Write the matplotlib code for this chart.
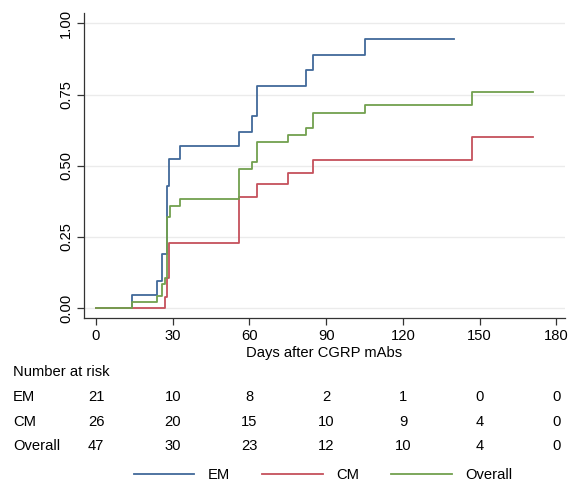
import numpy as np
import matplotlib
matplotlib.use("Agg")
import matplotlib.pyplot as plt
from matplotlib.transforms import blended_transform_factory

plt.rcParams['font.family'] = ['Liberation Sans', 'DejaVu Sans']
fs = 10.6

# cumulative incidence step curves
em_days = [0, 14, 23.7, 25.7, 27.6, 28.7, 33, 56, 61, 63, 82, 85, 105, 140]
em_vals = [0, .048, .095, .19, .43, .524, .571, .62, .675, .78, .835, .89, .945, .945]

cm_days = [0, 27.1, 27.9, 28.4, 56, 63, 75, 85, 147, 171]
cm_vals = [0, .04, .107, .23, .39, .435, .475, .52, .60, .60]

all_days = [0, 14, 23.7, 25.7, 27, 27.9, 29, 33, 56, 61, 63, 75, 82, 85, 105, 147, 171]
all_vals = [0, .021, .043, .085, .107, .32, .36, .383, .49, .515, .585, .608, .632, .684, .712, .76, .76]

risk_days = [0, 30, 60, 90, 120, 150, 180]
risk_em = [21, 10, 8, 2, 1, 0, 0]
risk_cm = [26, 20, 15, 10, 9, 4, 0]
risk_all = [47, 30, 23, 12, 10, 4, 0]

c_em = "#41699a"
c_cm = "#c5515c"
c_all = "#72a04e"

fig = plt.figure(figsize=(5.71, 4.84), dpi=100)
ax = fig.add_axes([84/571, 1-318/484, 481/571, 305/484])

ax.plot(em_days, em_vals, drawstyle='steps-post', color=c_em, lw=1.3, label='EM')
ax.plot(cm_days, cm_vals, drawstyle='steps-post', color=c_cm, lw=1.3, label='CM')
ax.plot(all_days, all_vals, drawstyle='steps-post', color=c_all, lw=1.3, label='Overall')

ax.set_xlim(-4.7, 183.4)
ax.set_ylim(-0.034, 1.036)
ax.set_xticks(risk_days)
ax.set_yticks([0, .25, .5, .75, 1])
ax.set_yticklabels(["0.00", "0.25", "0.50", "0.75", "1.00"], rotation=90, va='center')
ax.grid(axis='y', color='#ebebeb', lw=1)
ax.set_axisbelow(True)
for s in ['top', 'right']:
    ax.spines[s].set_visible(False)
for s in ['left', 'bottom']:
    ax.spines[s].set_color('#333333')
    ax.spines[s].set_linewidth(0.9)
ax.tick_params(length=5, width=0.9, color='#333333', labelsize=fs, pad=3)
ax.set_xlabel("Days after CGRP mAbs", fontsize=fs, labelpad=2)

# number at risk table
tr = blended_transform_factory(ax.transData, fig.transFigure)
fig.text(13/571, 1-372/484, "Number at risk", fontsize=fs, va='center')
rows = [("EM", risk_em, 397), ("CM", risk_cm, 422), ("Overall", risk_all, 446)]
for name, vals, ypix in rows:
    fig.text(13/571, 1-ypix/484, name, fontsize=fs, va='center')
    for d, v in zip(risk_days, vals):
        ax.text(d, 1-ypix/484, str(v), transform=tr, ha='center', va='center', fontsize=fs)

fig.legend(loc='center', bbox_to_anchor=(323/571, 1-475/484), ncol=3, frameon=False,
           handlelength=4.1, handletextpad=0.9, columnspacing=2.2, fontsize=fs)

fig.savefig("out.png", dpi=100)
